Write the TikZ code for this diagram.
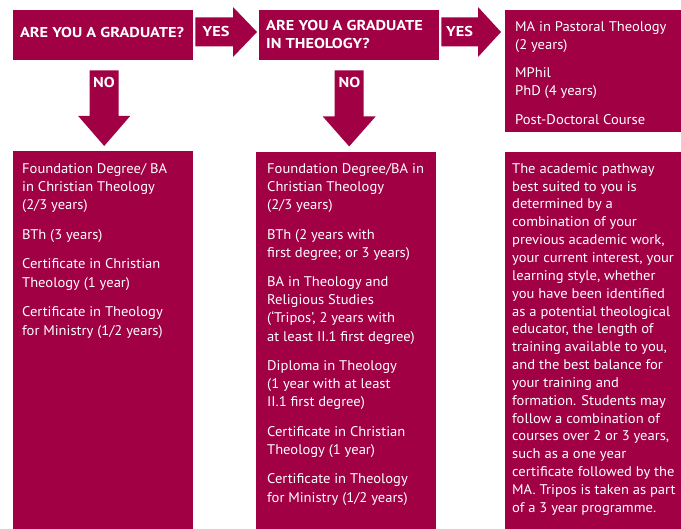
\documentclass[tikz,border=0pt]{standalone}
\usepackage{fontspec}
\setmainfont{PT Sans}[FakeStretch=1.04]
\newfontfamily\headfont{PT Sans}[FakeStretch=1.14]
\usetikzlibrary{calc}
\definecolor{maroon}{RGB}{162,0,68}
\tikzset{
  box/.style={fill=maroon, draw=none, anchor=north west, inner sep=0pt, minimum width=#1},
  body/.style={text=white, anchor=north west, inner sep=0pt, align=left,
    font=\fontsize{14}{18.2}\selectfont},
  head/.style={text=white, inner sep=0pt, font=\headfont\bfseries\fontsize{14.3}{18}\selectfont},
  arrowfill/.style={fill=maroon, draw=none},
}
\newcommand{\fl}{\rule{0pt}{13pt}}
\begin{document}
\begin{tikzpicture}[x=1pt,y=-1pt]
\useasboundingbox (0,0) rectangle (681,529);
% boxes
\node[box=180pt, minimum height=50pt] (q1) at (13,10) {};
\node[box=180pt, minimum height=50pt] (q2) at (259,10) {};
\node[box=176pt, minimum height=122pt] (r1) at (505,10) {};
\node[box=180pt, minimum height=378pt] (a1) at (13,151) {};
\node[box=180pt, minimum height=377pt] (a2) at (256,152) {};
\node[box=176pt, minimum height=377pt] (a3) at (505,152) {};
% YES arrows
\coordinate (y1s) at ($(q1.north east)+(2,22)$);
\coordinate (y1e) at ($(q2.north west)+(-2,22)$);
\fill[arrowfill] ($(y1s)+(0,-14.5)$) -- ($(y1e)+(-24,-14.5)$) -- ($(y1e)+(-24,-25)$) -- (y1e)
  -- ($(y1e)+(-24,25)$) -- ($(y1e)+(-24,14.5)$) -- ($(y1s)+(0,14.5)$) -- cycle;
\coordinate (y2s) at ($(q2.north east)+(2,22)$);
\coordinate (y2e) at ($(r1.north west)+(-4,22)$);
\fill[arrowfill] ($(y2s)+(0,-14.5)$) -- ($(y2e)+(-23,-14.5)$) -- ($(y2e)+(-23,-25)$) -- (y2e)
  -- ($(y2e)+(-23,25)$) -- ($(y2e)+(-23,14.5)$) -- ($(y2s)+(0,14.5)$) -- cycle;
% NO arrows
\coordinate (n1s) at ($(q1.south)+(1,10)$);
\coordinate (n1e) at ($(a1.north)+(1,-5)$);
\fill[arrowfill] ($(n1s)+(-14.5,0)$) -- ($(n1e)+(-14.5,-30)$) -- ($(n1e)+(-26,-30)$) -- (n1e)
  -- ($(n1e)+(26,-30)$) -- ($(n1e)+(14.5,-30)$) -- ($(n1s)+(14.5,0)$) -- cycle;
\coordinate (n2s) at ($(q2.south)+(0,10)$);
\coordinate (n2e) at ($(q2.south)+(0,86)$);
\fill[arrowfill] ($(n2s)+(-14.5,0)$) -- ($(n2e)+(-14.5,-30)$) -- ($(n2e)+(-26.5,-30)$) -- (n2e)
  -- ($(n2e)+(26.5,-30)$) -- ($(n2e)+(14.5,-30)$) -- ($(n2s)+(14.5,0)$) -- cycle;
% labels
\node[head, anchor=base] (q1t) at (102,38) {ARE YOU A GRADUATE?};
\node[head, anchor=base west] (q2t) at (266,31) {ARE YOU A GRADUATE};
\node[head, anchor=base west] (q2u) at (266,49) {IN THEOLOGY?};
\node[head, anchor=base] (yes1) at (216,37) {YES};
\node[head, anchor=base] (yes2) at (459.5,37) {YES};
\node[head, anchor=base] (no1) at (104,88) {NO};
\node[head, anchor=base] (no2) at (349.5,88) {NO};
% texts
\node[body, font=\fontsize{14}{18}\selectfont] (r1t) at (515,18) {\fl MA in Pastoral Theology\\(2 years)\\[10pt]MPhil\\PhD (4 years)\\[11pt]Post-Doctoral Course};
\node[body] (a1t) at (22,160) {\fl Foundation Degree/ BA\\in Christian Theology\\(2/3 years)\\[11.5pt]BTh (3 years)\\[11.5pt]Certificate in Christian\\Theology (1 year)\\[11.5pt]Certificate in Theology\\for Ministry (1/2 years)};
\node[body] (a2t) at (267,160) {\fl Foundation Degree/BA in\\Christian Theology\\(2/3 years)\\[11.2pt]BTh (2 years with\\first degree; or 3 years)\\[11.2pt]BA in Theology and\\Religious Studies\\(`Tripos', 2 years with\\at least II.1 first degree)\\[11.2pt]Diploma in Theology\\(1 year with at least\\II.1 first degree)\\[11.2pt]Certificate in Christian\\Theology (1 year)\\[11.2pt]Certificate in Theology\\for Ministry (1/2 years)};
\node[body, font=\fontsize{14}{17.85}\selectfont] (a3t) at (512,160) {\fl The academic pathway\\best suited to you is\\determined by a\\combination of your\\previous academic work,\\your current interest, your\\learning style, whether\\you have been identified\\as a potential theological\\educator, the length of\\training available to you,\\and the best balance for\\your training and\\formation. Students may\\follow a combination of\\courses over 2 or 3 years,\\such as a one year\\certificate followed by the\\MA. Tripos is taken as part\\of a 3 year programme.};
\end{tikzpicture}
\end{document}
